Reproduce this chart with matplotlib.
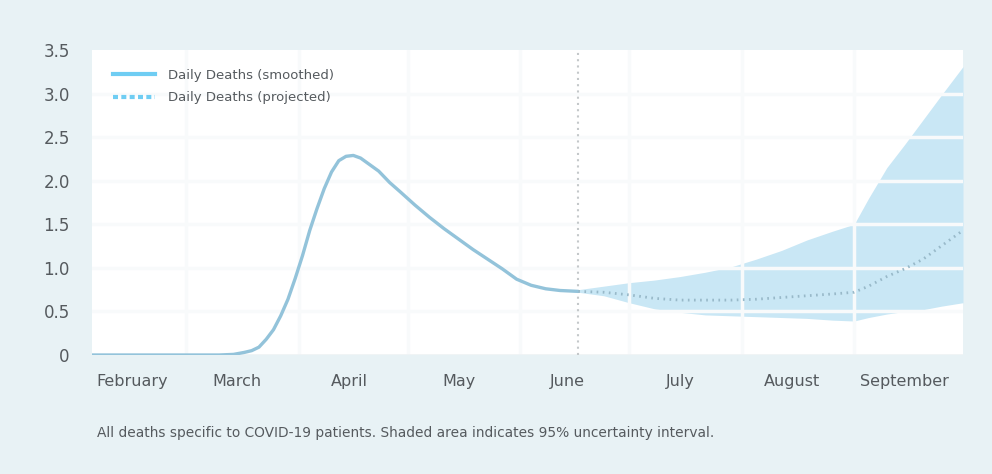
import matplotlib
matplotlib.use("Agg")
import matplotlib.pyplot as plt
from matplotlib.lines import Line2D
from matplotlib.ticker import FuncFormatter
import pandas as pd

# Daily deaths, smoothed (observed)
smooth_dates = ["2020-02-04", "2020-03-06", "2020-03-10", "2020-03-14", "2020-03-17",
                "2020-03-19", "2020-03-21", "2020-03-23", "2020-03-25", "2020-03-27",
                "2020-03-29", "2020-03-31", "2020-04-02", "2020-04-04", "2020-04-06",
                "2020-04-08", "2020-04-10", "2020-04-12", "2020-04-14", "2020-04-16",
                "2020-04-18", "2020-04-20", "2020-04-23", "2020-04-26", "2020-04-29",
                "2020-05-03", "2020-05-07", "2020-05-11", "2020-05-15", "2020-05-19",
                "2020-05-23", "2020-05-27", "2020-05-31", "2020-06-04", "2020-06-08",
                "2020-06-12", "2020-06-17"]
smooth_vals = [0.0, 0.0, 0.0, 0.007, 0.03,
               0.05, 0.09, 0.18, 0.29, 0.45,
               0.64, 0.88, 1.14, 1.43, 1.68,
               1.91, 2.10, 2.23, 2.28, 2.29,
               2.26, 2.20, 2.11, 1.98, 1.87,
               1.72, 1.58, 1.45, 1.33, 1.21,
               1.10, 0.99, 0.87, 0.80, 0.76,
               0.74, 0.73]

# Projection with 95% uncertainty interval
proj_dates = ["2020-06-17", "2020-06-24", "2020-07-01", "2020-07-08", "2020-07-15",
              "2020-07-22", "2020-07-29", "2020-08-05", "2020-08-12", "2020-08-19",
              "2020-08-26", "2020-09-01", "2020-09-05", "2020-09-10", "2020-09-15",
              "2020-09-20", "2020-09-25", "2020-10-01"]
proj_mean = [0.73, 0.72, 0.69, 0.65, 0.63,
             0.63, 0.63, 0.64, 0.66, 0.68,
             0.70, 0.72, 0.79, 0.90, 0.99,
             1.10, 1.25, 1.43]
proj_upper = [0.75, 0.79, 0.83, 0.86, 0.90,
              0.95, 1.01, 1.10, 1.20, 1.32,
              1.42, 1.50, 1.80, 2.15, 2.42,
              2.70, 2.98, 3.31]
proj_lower = [0.72, 0.68, 0.60, 0.53, 0.49,
              0.46, 0.45, 0.44, 0.43, 0.42,
              0.40, 0.39, 0.43, 0.47, 0.50,
              0.52, 0.56, 0.60]

today = "2020-06-17"
month_labels = ["February", "March", "April", "May", "June", "July", "August", "September"]
label_dates = ["2020-02-15", "2020-03-15", "2020-04-15", "2020-05-15",
               "2020-06-14", "2020-07-15", "2020-08-15", "2020-09-15"]
month_starts = ["2020-03-01", "2020-04-01", "2020-05-01", "2020-06-01",
                "2020-07-01", "2020-08-01", "2020-09-01"]
y_ticks = [0, 0.5, 1.0, 1.5, 2.0, 2.5, 3.0, 3.5]

plt.rcParams["font.family"] = ["DejaVu Sans"]

bg = "#e8f2f5"
text_col = "#555a5e"
line_col = "#93c3da"
legend_col = "#6fcdf3"
band_col = "#c9e7f5"
grid_col = "#f8fafb"

fig = plt.figure(figsize=(9.92, 4.74), dpi=100, facecolor=bg)
ax = fig.add_axes([92 / 992, 1 - 355 / 474, (963 - 92) / 992, (355 - 50) / 474])
ax.set_facecolor("white")

sd = pd.to_datetime(smooth_dates)
pdts = pd.to_datetime(proj_dates)

ax.fill_between(pdts, proj_lower, proj_upper, color=band_col, lw=0, zorder=1)

# grid drawn above the band so it shows through as light lines
for y in y_ticks[1:-1]:
    ax.axhline(y, color=grid_col, lw=2.5, zorder=2)
for d in pd.to_datetime(month_starts):
    ax.axvline(d, color=grid_col, lw=2.5, zorder=2)

ax.plot(sd, smooth_vals, color=line_col, lw=2.4, zorder=4,
        solid_capstyle="round", solid_joinstyle="round")
ax.plot(pdts, proj_mean, color="#98b9c9", lw=2.0, ls=(0, (0.6, 1.6)), zorder=4)
ax.axvline(pd.Timestamp(today), color="#c4c8ca", lw=1.5, ls=(0, (1, 2)), zorder=3)

ax.set_xlim(pd.Timestamp("2020-02-04"), pd.Timestamp("2020-10-01"))
ax.set_ylim(0, 3.5)

ax.set_xticks(pd.to_datetime(label_dates))
ax.set_xticklabels(month_labels)
ax.set_yticks(y_ticks)
ax.yaxis.set_major_formatter(FuncFormatter(lambda v, p: "0" if v == 0 else f"{v:.1f}"))
ax.tick_params(axis="x", length=0, pad=14, labelsize=11.5, labelcolor=text_col)
ax.tick_params(axis="y", length=0, pad=16, labelsize=12, labelcolor=text_col)
for s in ax.spines.values():
    s.set_visible(False)
ax.axhline(0, color="#eef2f4", lw=1.2, zorder=2)

handles = [Line2D([], [], color=legend_col, lw=3),
           Line2D([], [], color=legend_col, lw=3, ls=(0, (1.2, 0.8)))]
leg = ax.legend(handles, ["Daily Deaths (smoothed)", "Daily Deaths (projected)"],
                loc="upper left", bbox_to_anchor=(0.01, 0.978), frameon=False,
                fontsize=9.5, handlelength=3.2, handletextpad=1.0, labelspacing=0.75)
for t in leg.get_texts():
    t.set_color(text_col)

fig.text(97 / 992, 1 - 433 / 474,
         "All deaths specific to COVID-19 patients. Shaded area indicates 95% uncertainty interval.",
         fontsize=9.9, color=text_col, va="center", ha="left")

fig.savefig("out.png", dpi=100, facecolor=bg)
